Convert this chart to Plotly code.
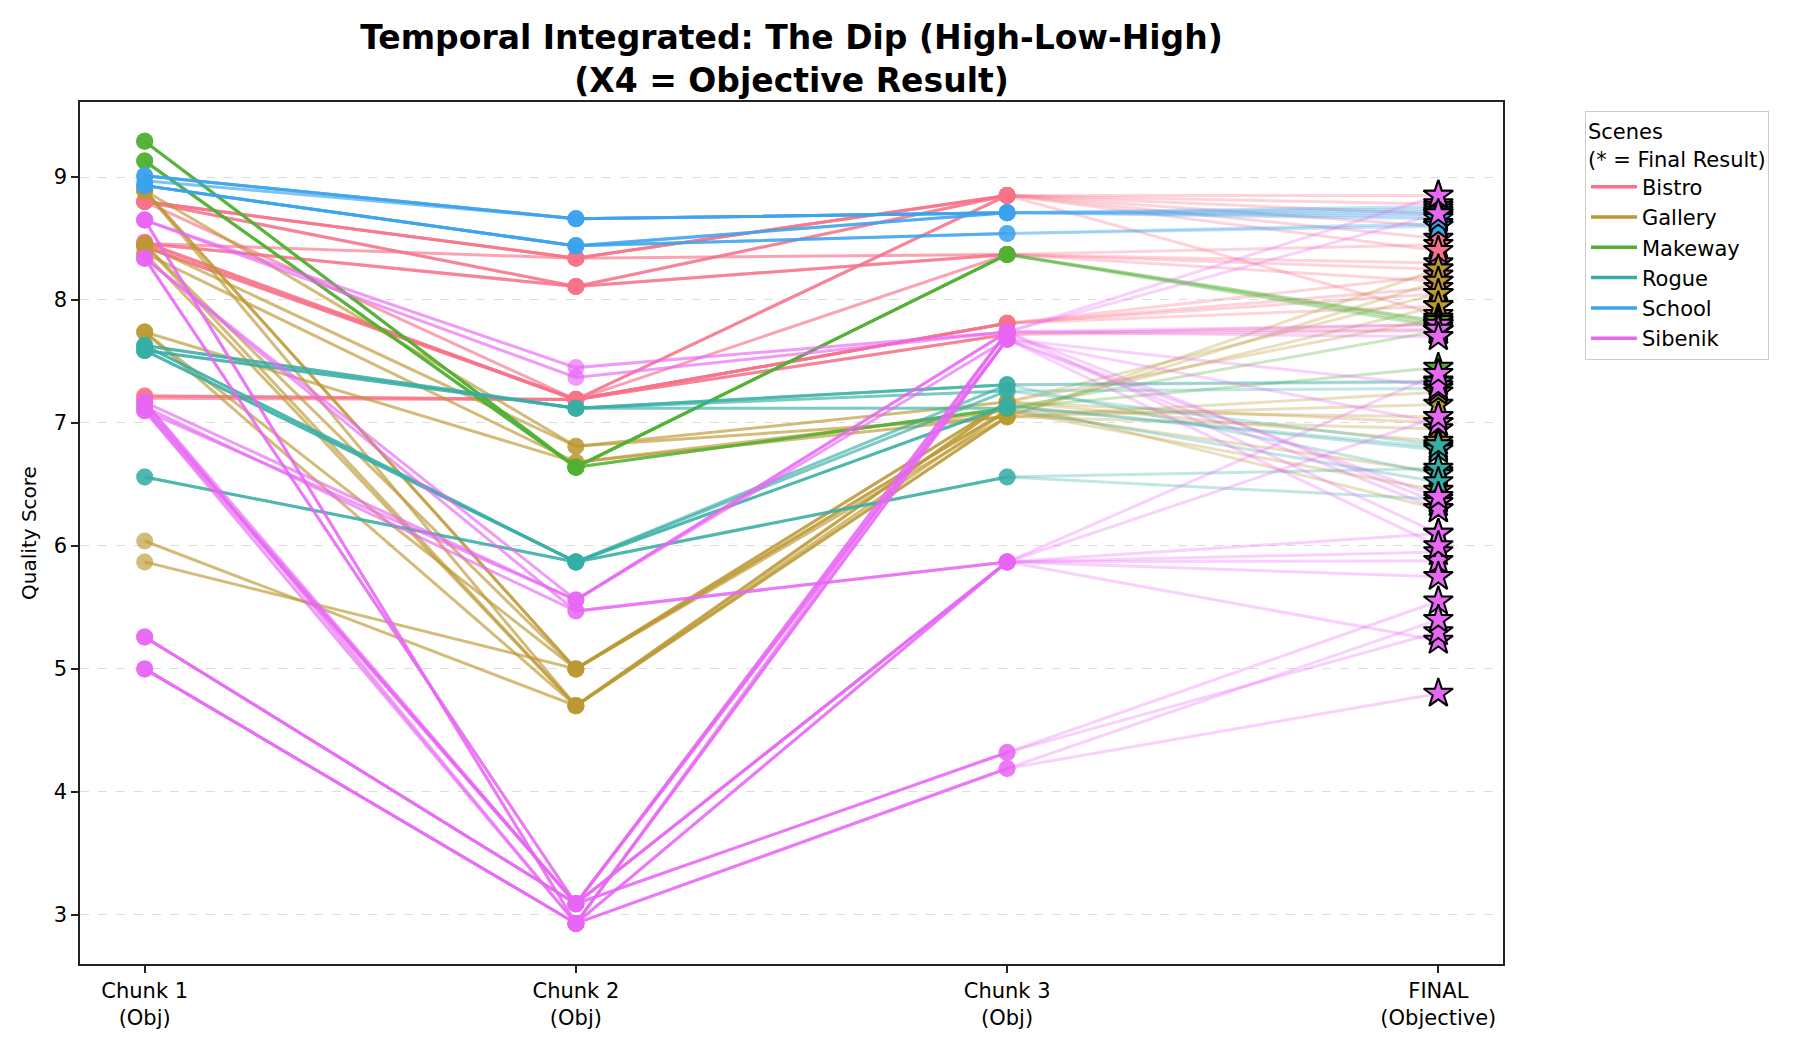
import plotly.graph_objects as go

# ---------------- data ----------------
x_labels = ["Chunk 1<br>(Obj)", "Chunk 2<br>(Obj)", "Chunk 3<br>(Obj)", "FINAL<br>(Objective)"]
scenes = ["Bistro", "Gallery", "Makeway", "Rogue", "School", "Sibenik"]
scene_colors = ["#f77189", "#bb9832", "#50b131", "#36ada4", "#3ba3ec", "#e866f4"]

bistro_c1 = [8.80, 8.80, 8.80, 8.46, 8.80, 8.47, 8.43, 8.47, 8.43, 7.22, 7.20, 7.22, 8.80, 8.45, 8.46, 8.80, 8.46]
bistro_c2 = [8.34, 8.34, 8.11, 8.11, 8.11, 7.19, 7.19, 7.19, 7.19, 7.19, 7.19, 7.19, 7.19, 7.19, 8.34, 8.34, 8.11]
bistro_c3 = [8.85, 8.85, 8.85, 8.37, 8.37, 8.85, 8.85, 7.81, 7.81, 7.81, 7.72, 7.72, 7.81, 8.37, 8.37, 8.85, 8.85]
bistro_fin = [8.85, 8.78, 8.70, 8.45, 8.30, 8.60, 7.88, 8.20, 8.05, 7.95, 7.80, 7.75, 8.10, 8.15, 8.25, 8.50, 8.40]

gallery_c1 = [8.89, 8.89, 8.89, 8.45, 8.45, 8.38, 7.74, 7.74, 6.04, 5.87, 8.89, 8.45, 7.74, 8.38]
gallery_c2 = [5.00, 4.70, 6.81, 5.00, 4.70, 6.68, 6.68, 4.70, 4.70, 5.00, 5.00, 6.81, 5.00, 4.70]
gallery_c3 = [7.05, 7.05, 7.17, 7.10, 7.17, 7.05, 7.10, 7.05, 7.10, 7.17, 7.17, 7.05, 7.10, 7.17]
gallery_fin = [8.25, 8.15, 8.05, 7.95, 7.85, 7.15, 7.05, 6.95, 6.45, 6.30, 6.85, 7.25, 6.60, 7.00]

makeway_c1 = [9.29, 9.29, 9.13, 9.13, 9.29, 9.13]
makeway_c2 = [6.64, 6.64, 6.64, 6.64, 6.64, 6.64]
makeway_c3 = [8.37, 8.37, 8.37, 8.37, 7.12, 7.12]
makeway_fin = [7.82, 7.80, 7.83, 7.78, 7.45, 7.75]

rogue_c1 = [7.63, 7.59, 7.63, 7.59, 7.63, 7.59, 7.63, 6.56, 6.56, 7.59]
rogue_c2 = [7.12, 7.12, 7.12, 5.87, 5.87, 5.87, 5.87, 5.87, 5.87, 7.12]
rogue_c3 = [7.31, 7.31, 7.26, 7.14, 7.14, 7.26, 7.31, 6.56, 6.56, 7.12]
rogue_fin = [7.34, 7.33, 7.28, 6.80, 6.78, 6.82, 6.58, 6.63, 6.38, 6.52]

school_c1 = [9.01, 9.01, 9.01, 8.93, 8.93, 8.93, 8.93, 8.97]
school_c2 = [8.66, 8.66, 8.66, 8.44, 8.44, 8.44, 8.44, 8.66]
school_c3 = [8.71, 8.71, 8.71, 8.71, 8.71, 8.54, 8.54, 8.71]
school_fin = [8.76, 8.74, 8.72, 8.70, 8.68, 8.62, 8.60, 8.66]

sibenik_c1 = [8.65, 8.65, 8.65, 8.34, 8.34, 8.34, 7.17, 7.13, 7.10, 7.13, 7.10, 7.17,
              7.13, 5.26, 5.00, 5.26, 5.00, 5.26, 5.00, 7.10, 7.17, 8.34, 8.65]
sibenik_c2 = [7.45, 7.37, 2.93, 5.56, 5.47, 3.09, 3.09, 3.09, 2.93, 5.47, 5.56, 2.93,
              3.09, 3.09, 2.93, 3.09, 2.93, 3.09, 2.93, 3.09, 5.56, 3.09, 2.93]
sibenik_c3 = [7.74, 7.74, 7.68, 7.74, 5.87, 7.74, 7.74, 7.68, 7.68, 5.87, 7.74, 5.87,
              5.87, 5.87, 5.87, 4.32, 4.19, 4.32, 4.19, 5.87, 7.68, 7.68, 7.74]
sibenik_fin = [7.80, 7.76, 7.30, 6.35, 5.95, 6.10, 7.70, 7.00, 6.30, 5.88, 8.85, 6.10,
               7.40, 5.75, 5.23, 5.55, 4.80, 5.30, 5.40, 7.05, 6.00, 6.40, 8.70]

scene_data = {
    "Bistro": (bistro_c1, bistro_c2, bistro_c3, bistro_fin),
    "Gallery": (gallery_c1, gallery_c2, gallery_c3, gallery_fin),
    "Makeway": (makeway_c1, makeway_c2, makeway_c3, makeway_fin),
    "Rogue": (rogue_c1, rogue_c2, rogue_c3, rogue_fin),
    "School": (school_c1, school_c2, school_c3, school_fin),
    "Sibenik": (sibenik_c1, sibenik_c2, sibenik_c3, sibenik_fin),
}

# ---------------- figure ----------------
def rgba(hex_color, a):
    h = hex_color.lstrip("#")
    r, g, b = int(h[0:2], 16), int(h[2:4], 16), int(h[4:6], 16)
    return f"rgba({r},{g},{b},{a})"

W, H = 1784, 1034
ML, MT, PW, PH = 72, 94, 1423, 868

xs = list(range(len(x_labels)))
fig = go.Figure()

for scene, color in zip(scenes, scene_colors):
    c1, c2, c3, fin = scene_data[scene]
    for a, b, c, f in zip(c1, c2, c3, fin):
        fig.add_trace(go.Scatter(
            x=xs[:3], y=[a, b, c], mode="lines+markers",
            line=dict(color=rgba(color, 0.65), width=3),
            marker=dict(size=17, color=rgba(color, 0.65)),
            showlegend=False, hoverinfo="skip"))
        fig.add_trace(go.Scatter(
            x=xs[2:], y=[c, f], mode="lines",
            line=dict(color=rgba(color, 0.3), width=3),
            showlegend=False, hoverinfo="skip"))

for scene, color in zip(scenes, scene_colors):
    fin = scene_data[scene][3]
    fig.add_trace(go.Scatter(
        x=[xs[3]] * len(fin), y=fin, mode="markers",
        marker=dict(symbol="star", size=22, color=color,
                    line=dict(color="black", width=2)),
        showlegend=False, hoverinfo="skip"))

for scene, color in zip(scenes, scene_colors):
    fig.add_trace(go.Scatter(
        x=[None], y=[None], mode="lines", name=scene,
        line=dict(color=color, width=3.5)))

fig.update_layout(
    width=W, height=H,
    paper_bgcolor="white", plot_bgcolor="white",
    font=dict(family="DejaVu Sans", size=21, color="black"),
    margin=dict(l=ML, r=W - ML - PW, t=MT, b=H - MT - PH),
    title=dict(
        text="<b>Temporal Integrated: The Dip (High-Low-High)<br>(X4 = Objective Result)</b>",
        x=(ML + PW / 2) / W, xanchor="center",
        y=1 - 41 / H, yanchor="top",
        font=dict(size=33, family="DejaVu Sans")),
    legend=dict(
        title=dict(text="Scenes<br>(* = Final Result)", font=dict(size=21)),
        x=1.0576, xanchor="left", y=0.9896, yanchor="top",
        bordercolor="#cccccc", borderwidth=1, bgcolor="white",
        font=dict(size=21), tracegroupgap=0, itemwidth=46),
)

fig.update_xaxes(
    range=[-0.15, 3.15], tickvals=xs, ticktext=x_labels,
    showgrid=False, zeroline=False,
    showline=True, mirror=True, linecolor="#222222", linewidth=1.5,
    ticks="outside", ticklen=7, tickwidth=1.5, tickcolor="#222222",
    tickfont=dict(size=21))
fig.update_yaxes(
    range=[2.6, 9.61], tickvals=[3, 4, 5, 6, 7, 8, 9],
    title=dict(text="Quality Score", standoff=12, font=dict(size=20)),
    showgrid=True, gridcolor="#dddddd", griddash="dash", gridwidth=1.2,
    zeroline=False,
    showline=True, mirror=True, linecolor="#222222", linewidth=1.5,
    ticks="outside", ticklen=7, tickwidth=1.5, tickcolor="#222222",
    tickfont=dict(size=21))

fig.write_html("out.html")
